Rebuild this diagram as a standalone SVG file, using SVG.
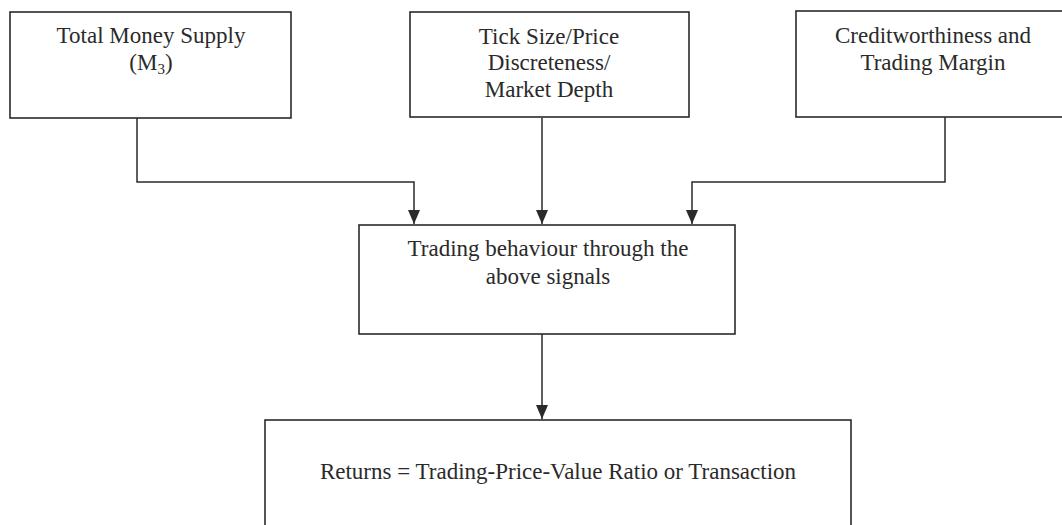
<svg xmlns="http://www.w3.org/2000/svg" width="1062" height="525" viewBox="0 0 1062 525">
<defs>
<style>
.box{fill:#fff;stroke:#2a2a2a;stroke-width:1.6}
.t{font-family:"Liberation Serif","Times New Roman",serif;font-size:23px;fill:#2a2a2a;text-anchor:middle}
.c{fill:none;stroke:#2a2a2a;stroke-width:1.5}
</style>
<marker id="ah" viewBox="0 0 14 12" refX="14" refY="6" markerWidth="14" markerHeight="12" markerUnits="userSpaceOnUse" orient="auto">
<path d="M0,0 L14,6 L0,12 Z" fill="#2a2a2a"/>
</marker>
</defs>
<rect width="1062" height="525" fill="#fff"/>
<g id="connectors">
<path class="c" d="M137,118 V182 H414 V224" marker-end="url(#ah)"/>
<path class="c" d="M542,118 V224" marker-end="url(#ah)"/>
<path class="c" d="M945,117 V182 H692 V224" marker-end="url(#ah)"/>
<path class="c" d="M542,334 V419" marker-end="url(#ah)"/>
</g>
<g id="node-money">
<rect class="box" x="10" y="12" width="281" height="106"/>
<text class="t" x="151" y="43">Total Money Supply</text>
<text class="t" x="151" y="70">(M<tspan font-size="15" dy="4">3</tspan><tspan dy="-4">)</tspan></text>
</g>
<g id="node-tick">
<rect class="box" x="410" y="12" width="279" height="105"/>
<text class="t" x="549" y="44">Tick Size/Price</text>
<text class="t" x="549" y="70">Discreteness/</text>
<text class="t" x="549" y="97">Market Depth</text>
</g>
<g id="node-credit">
<rect class="box" x="796" y="11" width="280" height="106"/>
<text class="t" x="933" y="43">Creditworthiness and</text>
<text class="t" x="933" y="70">Trading Margin</text>
</g>
<g id="node-trading">
<rect class="box" x="359" y="225" width="376" height="109"/>
<text class="t" x="548" y="256">Trading behaviour through the</text>
<text class="t" x="548" y="284">above signals</text>
</g>
<g id="node-returns">
<rect class="box" x="265" y="420" width="586" height="115"/>
<text class="t" x="558" y="479">Returns = Trading-Price-Value Ratio or Transaction</text>
</g>
</svg>
